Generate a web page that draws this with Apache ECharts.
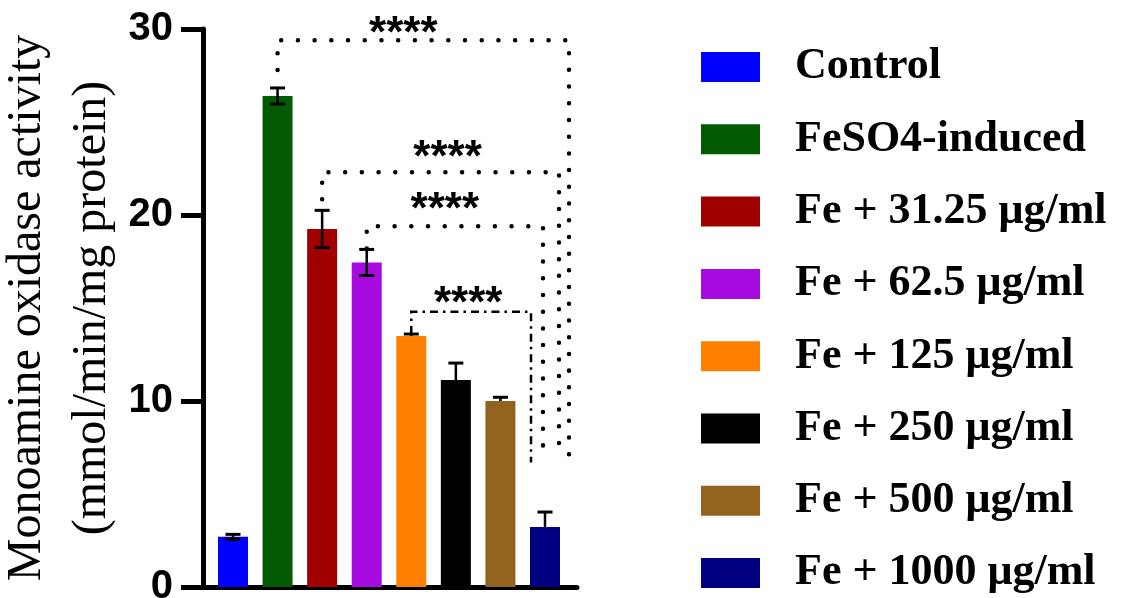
<!DOCTYPE html>
<html>
<head>
<meta charset="utf-8">
<script src="https://cdn.jsdelivr.net/npm/echarts@6/dist/echarts.min.js"></script>
<style>
html,body{margin:0;padding:0;background:#fff;}
#chart{width:1129px;height:598px;}
</style>
</head>
<body>
<div id="chart"></div>
<script>
// ---------- data ----------
const categories = ['Control', 'FeSO4-induced', 'Fe + 31.25 μg/ml', 'Fe + 62.5 μg/ml',
  'Fe + 125 μg/ml', 'Fe + 250 μg/ml', 'Fe + 500 μg/ml', 'Fe + 1000 μg/ml'];
const meanValues = [2.7, 26.4, 19.25, 17.45, 13.5, 11.13, 10.0, 3.23];
const errUp      = [0.13, 0.43, 1.0, 0.7, 0.1, 0.91, 0.2, 0.8];
const errDown    = [0.13, 0.43, 1.0, 0.7, 0.0, 0.0, 0.0, 0.0];
const yMin = 0, yMax = 30, yInterval = 10;
const yTitle = 'Monoamine oxidase activity\n(mmol/min/mg protein)';
// significance brackets
const bracketFrom   = [1, 2, 3, 4];
const bracketTo     = [7, 7, 7, 7];
const bracketLevel  = [29.4, 22.3, 19.4, 14.8];
const bracketBottom = [6.9, 6.9, 6.9, 6.7];
const bracketLabel  = ['****', '****', '****', '****'];

// ---------- styles ----------
const colors = ['#0000FF', '#025A02', '#A00000', '#A80BE0', '#FF8000', '#000000', '#94621F', '#000080'];
const bracketDash = ['dot', 'dot', 'dot', 'dashdot'];
const bracketGapPx = [18, 11, 1, 0];      // gap between left drop and bar/error top
const bracketEndPx = [24, 14, -2, -14];   // right end nudge relative to target bar centre
const labelDx = [-20, 7, -10, -3];
const labelDy = [15, 23, 25, 17];

const chart = echarts.init(document.getElementById('chart'), null, {renderer: 'canvas'});

const barSeries = categories.map((name, i) => ({
  name: name,
  type: 'bar',
  data: [[i, meanValues[i]]],
  barWidth: 30,
  barGap: '-100%',
  itemStyle: {color: colors[i]},
  z: 2
}));

const errorSeries = {
  type: 'custom',
  name: 'err',
  clip: false,
  z: 3,
  data: meanValues.map((v, i) => [i, v, errUp[i], errDown[i]]),
  renderItem: function (params, api) {
    const i = api.value(0), v = api.value(1), up = api.value(2), dn = api.value(3);
    const top = api.coord([i, v + up]);
    const bot = api.coord([i, v - dn]);
    const half = 7.5;
    const children = [
      {type: 'line', shape: {x1: top[0], y1: top[1], x2: bot[0], y2: bot[1]}, style: {stroke: '#000', lineWidth: 2.5}},
      {type: 'line', shape: {x1: top[0] - half, y1: top[1], x2: top[0] + half, y2: top[1]}, style: {stroke: '#000', lineWidth: 3}}
    ];
    if (dn > 0) {
      children.push({type: 'line', shape: {x1: bot[0] - half, y1: bot[1], x2: bot[0] + half, y2: bot[1]}, style: {stroke: '#000', lineWidth: 3}});
    }
    return {type: 'group', children: children};
  }
};

const bracketSeries = {
  type: 'custom',
  name: 'brackets',
  clip: false,
  z: 4,
  data: bracketFrom.map((f, k) => [f, bracketLevel[k], bracketTo[k], bracketBottom[k], k]),
  renderItem: function (params, api) {
    const f = api.value(0), lvl = api.value(1), t = api.value(2), b = api.value(3), k = api.value(4);
    const pL = api.coord([f, lvl]);
    const dropY = api.coord([f, meanValues[f] + errUp[f]])[1] - bracketGapPx[k];
    const xR = api.coord([t, lvl])[0] + bracketEndPx[k];
    const yB = api.coord([t, b])[1];
    const isDot = bracketDash[k] === 'dot';
    const style = isDot
      ? {stroke: '#000', fill: null, lineWidth: 4.5, lineDash: [0.01, 16.7], lineCap: 'round'}
      : {stroke: '#000', fill: null, lineWidth: 2.5, lineDash: [8, 5, 2.5, 5]};
    return {
      type: 'group',
      children: [
        {type: 'polyline', shape: {points: [[pL[0], dropY], [pL[0], pL[1]], [xR, pL[1]], [xR, yB]]}, style: style},
        {type: 'text', x: (pL[0] + xR) / 2 + labelDx[k], y: pL[1] - labelDy[k] + 10,
          style: {text: bracketLabel[k], fill: '#000', font: 'bold 44px "Liberation Sans", Arial, sans-serif',
            textAlign: 'center', textVerticalAlign: 'middle'}}
      ]
    };
  }
};

chart.setOption({
  animation: false,
  backgroundColor: '#fff',
  grid: {left: 203, right: 552, top: 29, bottom: 11, containLabel: false, outerBoundsMode: 'none'},
  legend: {
    orient: 'vertical',
    left: 701,
    top: 45,
    padding: 0,
    itemWidth: 59,
    itemHeight: 30,
    itemGap: 28.3,
    icon: 'rect',
    data: categories,
    textStyle: {fontFamily: '"Liberation Serif", "Times New Roman", serif', fontSize: 44, fontWeight: 'bold',
      color: '#000', lineHeight: 44, padding: [0, 0, 0, 30]}
  },
  xAxis: {
    type: 'value',
    min: -0.673,
    max: 7.718,
    axisLine: {show: true, onZero: false, lineStyle: {color: '#000', width: 5}},
    axisTick: {show: false},
    axisLabel: {show: false},
    splitLine: {show: false}
  },
  yAxis: {
    type: 'value',
    min: yMin,
    max: yMax,
    interval: yInterval,
    name: yTitle,
    nameLocation: 'middle',
    nameRotate: 90,
    nameGap: 77,
    nameTextStyle: {fontFamily: '"Liberation Serif", "Times New Roman", serif', fontSize: 48, lineHeight: 65, color: '#000'},
    axisLine: {show: true, onZero: false, lineStyle: {color: '#000', width: 5}},
    axisTick: {show: true, length: 22, lineStyle: {color: '#000', width: 5}},
    axisLabel: {color: '#000', fontFamily: '"Liberation Sans", Arial, sans-serif', fontWeight: 'bold', fontSize: 40, margin: 30},
    splitLine: {show: false}
  },
  series: barSeries.concat([errorSeries, bracketSeries])
});
</script>
</body>
</html>
